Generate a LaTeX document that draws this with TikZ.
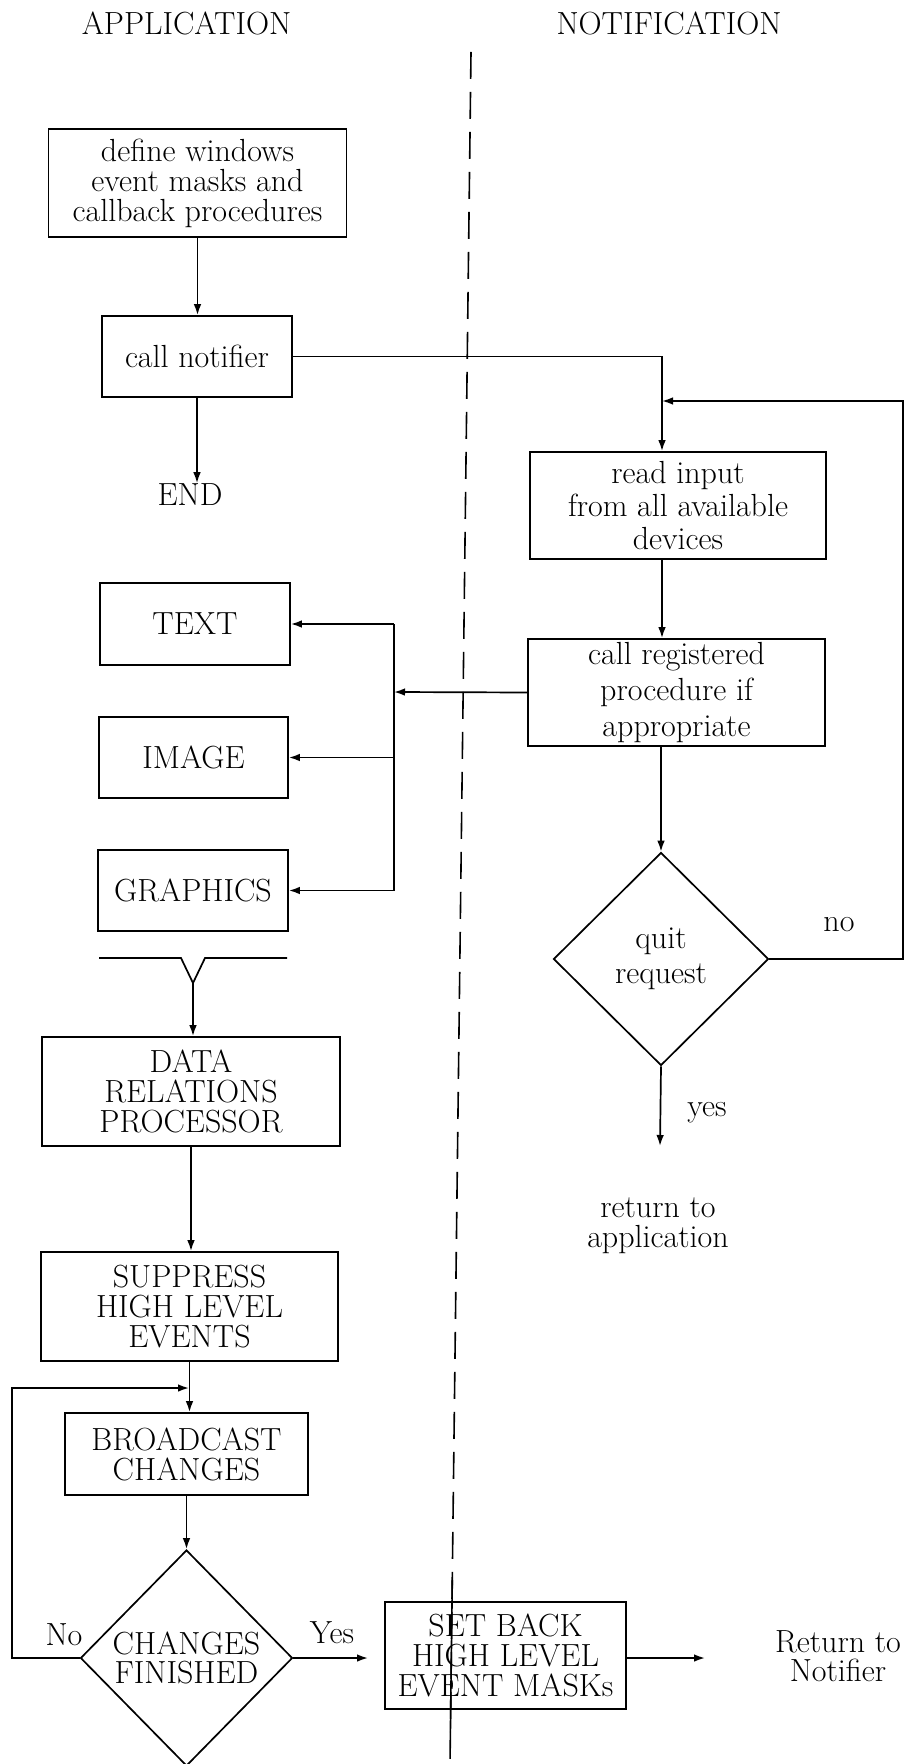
\documentclass[tikz,border=0pt]{standalone}
\usetikzlibrary{arrows.meta,shapes.geometric}
\begin{document}
\begin{tikzpicture}[x=0.5pt,y=-0.5pt,
  line width=0.85pt,
  txt/.style={inner sep=0pt,align=center,font=\fontsize{16}{15}\selectfont},
  box/.style={txt,draw,rectangle},
  dec/.style={draw,diamond,inner sep=0pt},
  flow/.style={-{Latex[length=5.5pt,width=3.8pt]}},
  divider/.style={line width=0.8pt,dash pattern=on 13.5pt off 6.5pt}]
\useasboundingbox (0,0) rectangle (909,1764);

% column headings
\node[txt] (happ) at (186.5,23) {APPLICATION};
\node[txt] (hnot) at (669,23) {NOTIFICATION};

% application column
\node[box,minimum width=149pt,minimum height=54pt] (def) at (197.5,183)
  {define windows\\event masks and\\callback procedures};
\node[box,minimum width=95pt,minimum height=40.5pt] (notif) at (197,356.5) {call notifier};
\node[txt] (end) at (190,495) {END};

\node[box,minimum width=95pt,minimum height=41pt] (text) at (195,624) {TEXT};
\node[box,minimum width=94.5pt,minimum height=40.5pt] (image) at (193.5,757.5) {IMAGE};
\node[box,minimum width=95pt,minimum height=40.5pt] (graph) at (193,890.5) {GRAPHICS};

\node[box,minimum width=149pt,minimum height=54.5pt] (data) at (191,1091.5)
  {DATA\\RELATIONS\\PROCESSOR};
\node[box,minimum width=148.5pt,minimum height=54.5pt] (sup) at (189.5,1306.5)
  {SUPPRESS\\HIGH LEVEL\\EVENTS};
\node[box,minimum width=121.5pt,minimum height=41pt] (bc) at (186.5,1454)
  {BROADCAST\\CHANGES};
\node[dec,minimum width=106pt,minimum height=108pt] (chg) at (186.5,1658) {};
\node[txt,font=\fontsize{16}{14.5}\selectfont] (chgt) at (chg) {CHANGES\\FINISHED};
\node[box,minimum width=120.5pt,minimum height=53.5pt] (setb) at (505.5,1655.5)
  {SET BACK\\HIGH LEVEL\\EVENT MASKs};
\node[txt,font=\fontsize{16}{14.5}\selectfont] (retn) at (838,1656) {Return to\\Notifier};
\node[txt] (nolab) at (64,1635) {No};
\node[txt] (yeslab) at (332,1633) {Yes};

% notification column
\node[box,minimum width=148pt,minimum height=53.5pt,font=\fontsize{16}{16.5}\selectfont]
  (read) at (678,505.5) {read input\\from all available\\devices};
\node[box,minimum width=148.5pt,minimum height=53.5pt,font=\fontsize{16}{18}\selectfont]
  (call) at (676.5,692.5) {call registered\\procedure if\\appropriate};
\node[dec,minimum width=107.5pt,minimum height=106.5pt] (quit) at (661,959) {};
\node[txt,font=\fontsize{16}{17.5}\selectfont] (quitt) at (quit) {quit\\request};
\node[txt] (qno) at (839,925) {no};
\node[txt] (qyes) at (707,1113) {yes};
\node[txt] (reta) at (658,1226) {return to\\application};

% helper points
\coordinate (rtop) at (903,401);
\coordinate (rejoin) at (662,401);
\coordinate (bus) at (394,692);
\coordinate (fv) at (193,983);
\coordinate (qend) at (660,1146);
\coordinate (ltop) at (12,1388);
\coordinate (ljoin) at (189,1388);
\coordinate (yend) at (368,1658);
\coordinate (rend) at (705,1658);
\coordinate (divtop) at (471,52);
\coordinate (divbot) at (450,1764);
\coordinate (sbtop) at (452.3,1580);
\coordinate (sbbot) at (450.4,1732);

% dividing line between the columns
\draw[divider] (divtop) -- (divbot);
\draw[line width=0.8pt] (sbtop) -- (sbbot);

% application flow
\draw[flow] (def.south) -- (def.south |- notif.north);
\draw[flow] (notif.south) -- (notif.south |- end.north);
\draw (99,958) -- (181,958) -- (fv) -- (205,958) -- (287,958);
\draw[flow] (fv) -- (fv |- data.north);
\draw[flow] (data.south) -- (data.south |- sup.north);
\draw[flow] (sup.south) -- (sup.south |- bc.north);
\draw[flow] (bc.south) -- (chg.north);
\draw[flow] (chg.west) -| (ltop) -- (ljoin);
\draw[flow] (chg.east) -- (yend);
\draw[flow] (setb.east |- rend) -- (rend);

% notification flow
\draw[flow] (notif.east) -| (read.north -| rejoin);
\draw[flow] (quit.east) -| (rtop) -- (rejoin);
\draw[flow] (read.south -| rejoin) -- (call.north -| rejoin);
\draw[flow] (call.south -| quit.north) -- (quit.north);
\draw[flow] (quit.south) -- (qend);

% dispatch to the output handlers
\draw[flow] (call.west) -- (bus);
\draw (bus |- text.east) -- (bus |- graph.east);
\draw[flow] (bus |- text.east) -- (text.east);
\draw[flow] (bus |- image.east) -- (image.east);
\draw[flow] (bus |- graph.east) -- (graph.east);
\end{tikzpicture}
\end{document}
